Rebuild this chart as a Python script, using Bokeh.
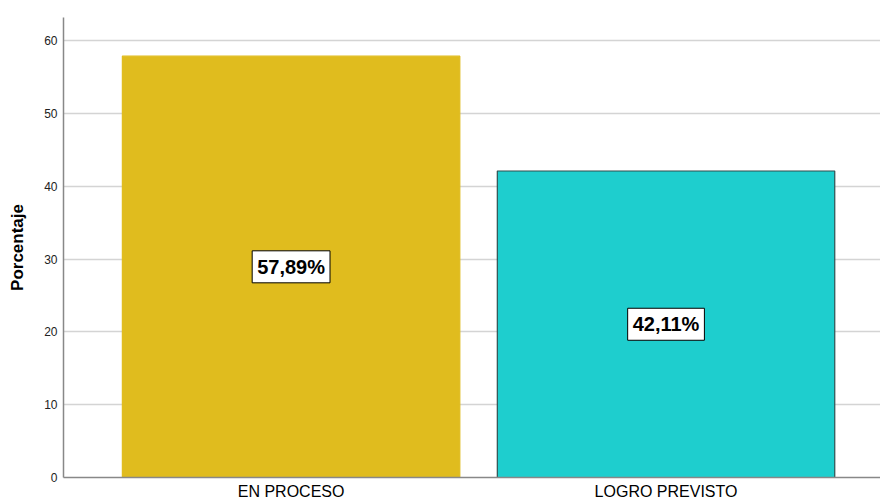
from bokeh.plotting import figure
from bokeh.models import Range1d, FixedTicker, ColumnDataSource
from bokeh.core.properties import value
from bokeh.embed import file_html
from bokeh.resources import INLINE

categories = ["EN PROCESO", "LOGRO PREVISTO"]
values = [57.89, 42.11]
colors = ["#E0BC1E", "#1ECECE"]
outline = ["#E0BC1E", "#2F4F4F"]
labels = ["57,89%", "42,11%"]
y_ticks = [0, 10, 20, 30, 40, 50, 60]

xs = [i + 0.5 for i in range(len(categories))]
src = ColumnDataSource(dict(
    x=xs, top=values, mid=[v / 2 for v in values], color=colors,
    outline=outline, label=labels))

p = figure(width=880, height=502, output_backend="svg", toolbar_location=None,
           x_range=Range1d(-0.107, 2.072), y_range=Range1d(0, 63.2),
           min_border_left=63, min_border_right=0, min_border_top=17,
           min_border_bottom=25)
p.outline_line_color = None
p.background_fill_color = "white"

p.vbar(x="x", top="top", width=0.9, bottom=0, source=src,
       fill_color="color", line_color="outline", line_width=1.2)

p.text(x="x", y="mid", text="label", source=src,
       text_align="center", text_baseline="middle",
       text_font=value("Liberation Sans"), text_font_style="bold",
       text_font_size="20px", text_color="black",
       background_fill_color="white", border_line_color="black",
       border_line_width=1, padding=5)

p.xaxis.ticker = FixedTicker(ticks=xs)
p.xaxis.major_label_overrides = {x: c for x, c in zip(xs, categories)}
p.xaxis.major_label_text_font = "Liberation Sans"
p.xaxis.major_label_text_font_size = "16px"
p.xaxis.major_label_text_color = "black"
p.xaxis.major_label_standoff = 5
p.xaxis.major_tick_line_color = None
p.xaxis.major_tick_out = 0
p.xaxis.major_tick_in = 0
p.xaxis.minor_tick_line_color = None
p.xaxis.minor_tick_out = 0
p.xaxis.axis_line_color = "#888888"
p.xaxis.axis_line_width = 1.5

p.yaxis.ticker = FixedTicker(ticks=y_ticks)
p.yaxis.axis_label = "Porcentaje"
p.yaxis.axis_label_text_font = "Liberation Sans"
p.yaxis.axis_label_text_font_style = "bold"
p.yaxis.axis_label_text_font_size = "17px"
p.yaxis.axis_label_text_color = "black"
p.yaxis.axis_label_standoff = 14
p.yaxis.major_label_text_font = "Liberation Sans"
p.yaxis.major_label_text_font_size = "12px"
p.yaxis.major_label_text_color = "#222222"
p.yaxis.major_label_standoff = 6
p.yaxis.major_tick_line_color = None
p.yaxis.major_tick_out = 0
p.yaxis.minor_tick_line_color = None
p.yaxis.minor_tick_out = 0
p.yaxis.axis_line_color = "#888888"
p.yaxis.axis_line_width = 1.5

p.xgrid.grid_line_color = None
p.ygrid.grid_line_color = "#d4d4d4"
p.ygrid.grid_line_width = 1.5

open("out.html", "w").write(file_html(p, INLINE))
